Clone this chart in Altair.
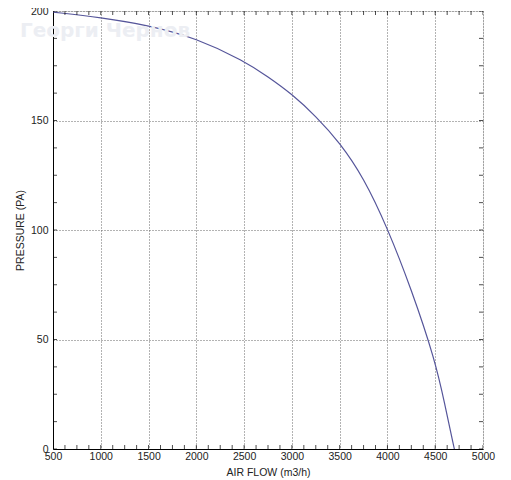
import altair as alt
import pandas as pd

# Fan curve
flow = [500, 1000, 1500, 2000, 2500, 2750, 3000, 3250, 3500, 3750, 4000, 4250, 4500, 4600, 4700]
pressure = [199.5, 197.0, 193.5, 187.6, 177.2, 170.0, 162.1, 152.0, 140.0, 124.0, 101.0, 73.0, 40.4, 20.5, 0.0]

x_major = [500, 1000, 1500, 2000, 2500, 3000, 3500, 4000, 4500, 5000]
y_major = [0, 50, 100, 150, 200]
x_minor = [500 + 125 * i for i in range(37)]
y_minor = [12.5 * i for i in range(17)]

watermark = "Георги Чернов"

df = pd.DataFrame({"flow": flow, "pressure": pressure})
dxm = pd.DataFrame({"v": x_minor})
dym = pd.DataFrame({"v": y_minor})

FONT = "Liberation Sans"

xscale = alt.Scale(domain=[500, 5000], nice=False, zero=False)
yscale = alt.Scale(domain=[0, 200], nice=False, zero=True)

xaxis = alt.Axis(
    values=x_major, format="d", title="AIR FLOW (m3/h)", grid=True, gridDash=[1, 2],
    gridColor="#666666", gridOpacity=1, gridWidth=1, ticks=False, domain=True,
    domainColor="#000000", labelFont=FONT, labelFontSize=10.5, labelColor="#222222",
    labelPadding=2, titleFont=FONT, titleFontSize=10.5, titleFontWeight="normal",
    titleColor="#222222", titlePadding=6, labelFlush=False,
)
yaxis = alt.Axis(
    values=y_major, format="d", title="PRESSURE (PA)", grid=True, gridDash=[1, 2],
    gridColor="#666666", gridOpacity=1, gridWidth=1, ticks=False, domain=True,
    domainColor="#000000", labelFont=FONT, labelFontSize=10.5, labelColor="#222222",
    labelPadding=5, titleFont=FONT, titleFontSize=10.5, titleFontWeight="normal",
    titleColor="#222222", titlePadding=5, labelFlush=False,
)

line = alt.Chart(df).mark_line(color="#55559a", strokeWidth=1.2, interpolate="basis").encode(
    x=alt.X("flow:Q", scale=xscale, axis=xaxis),
    y=alt.Y("pressure:Q", scale=yscale, axis=yaxis),
)

def xticks(at):
    return alt.Chart(dxm).mark_tick(color="#000000", size=8, thickness=1, clip=True).encode(
        x=alt.X("v:Q", scale=xscale), y=alt.YDatum(at)
    )

def yticks(at):
    return alt.Chart(dym).mark_tick(color="#000000", size=8, thickness=1, clip=True, orient="horizontal").encode(
        y=alt.Y("v:Q", scale=yscale), x=alt.XDatum(at)
    )

wm = alt.Chart(pd.DataFrame({"t": [watermark]})).mark_text(
    font="DejaVu Sans", fontSize=20, fontWeight="bold", color="#eceef3", align="left", baseline="middle"
).encode(x=alt.value(-33), y=alt.value(20), text="t:N")

chart = alt.layer(
    line, xticks(0), xticks(200), yticks(500), yticks(5000), wm
).properties(
    width=430, height=438,
    autosize=alt.AutoSizeParams(type="none"),
    padding={"left": 45, "top": 3, "right": 20, "bottom": 30},
).configure_view(stroke="#000000", strokeWidth=1).configure(background="#ffffff")

chart.save("out.html", embed_options={"renderer": "svg", "actions": False})
